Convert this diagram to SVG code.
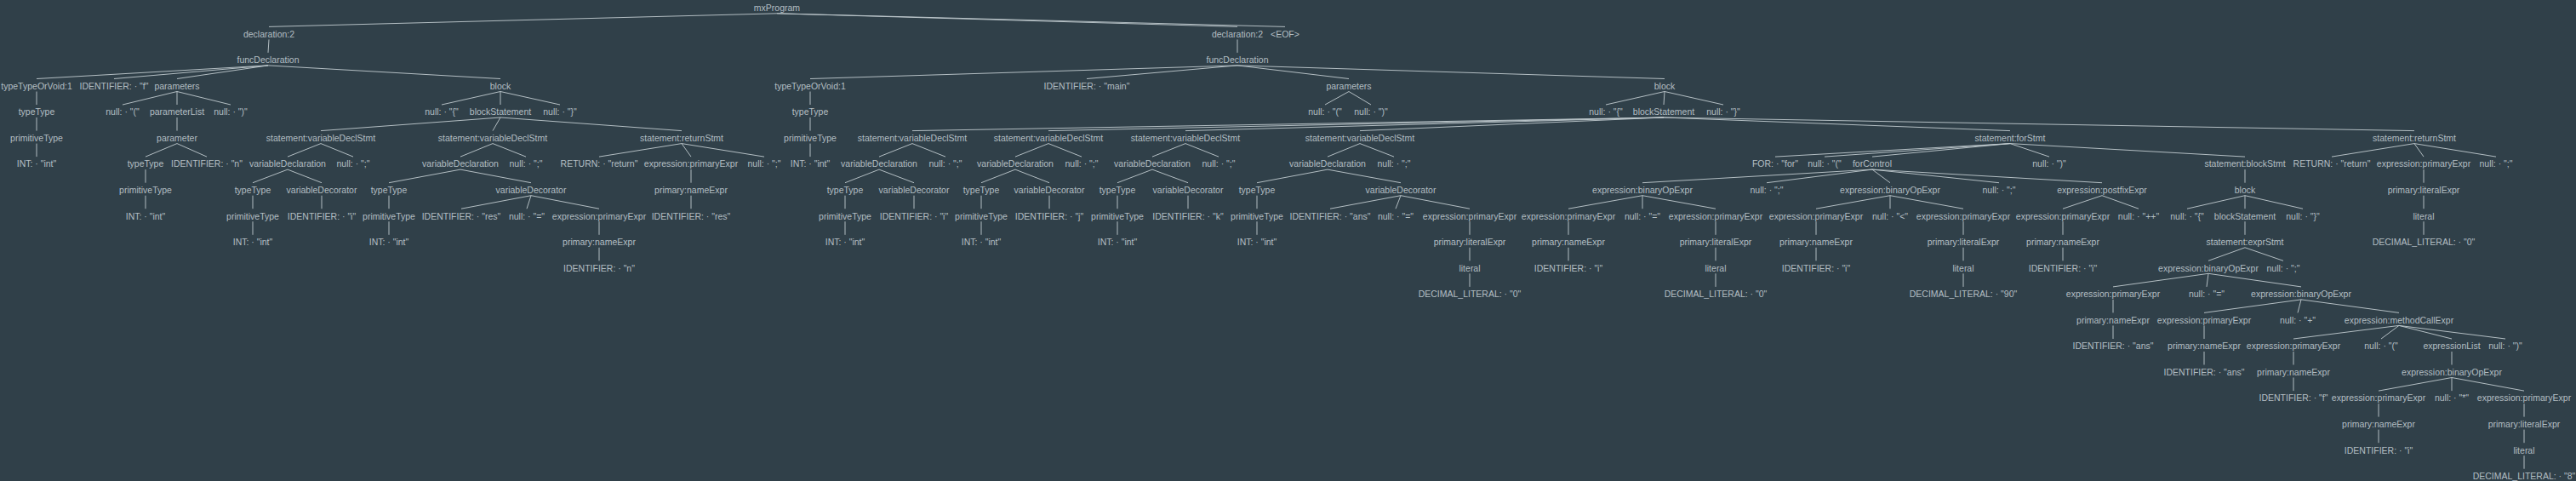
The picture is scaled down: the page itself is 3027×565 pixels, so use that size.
<svg xmlns="http://www.w3.org/2000/svg" width="3027" height="565" viewBox="0 0 3027 565">
<style>
text{font-family:"Liberation Sans",Arial,sans-serif;font-size:10.5px;fill:#b3bec3;text-anchor:middle}
#edges line{stroke:#c2ccd0;stroke-width:0.9}
</style>
<rect width="3027" height="565" fill="#304049"/>
<g id="edges">
<line x1="913" y1="15.8" x2="316" y2="31.4"/><line x1="913" y1="15.8" x2="1454" y2="31.4"/><line x1="913" y1="15.8" x2="1510" y2="31.4"/>
<line x1="316" y1="46.4" x2="315" y2="61.9"/>
<line x1="315" y1="76.9" x2="43" y2="92.5"/><line x1="315" y1="76.9" x2="134" y2="92.5"/><line x1="315" y1="76.9" x2="208" y2="92.5"/><line x1="315" y1="76.9" x2="588" y2="92.5"/>
<line x1="43" y1="107.5" x2="43" y2="123"/><line x1="43" y1="138" x2="43" y2="153.6"/><line x1="43" y1="168.6" x2="43" y2="184.1"/>
<line x1="208" y1="107.5" x2="144" y2="123"/><line x1="208" y1="107.5" x2="208" y2="123"/><line x1="208" y1="107.5" x2="271" y2="123"/>
<line x1="208" y1="138" x2="208" y2="153.6"/>
<line x1="208" y1="168.6" x2="171" y2="184.1"/><line x1="208" y1="168.6" x2="243" y2="184.1"/>
<line x1="171" y1="199.1" x2="171" y2="214.7"/><line x1="171" y1="229.7" x2="171" y2="245.2"/>
<line x1="588" y1="107.5" x2="519" y2="123"/><line x1="588" y1="107.5" x2="588" y2="123"/><line x1="588" y1="107.5" x2="658" y2="123"/>
<line x1="588" y1="138" x2="377" y2="153.6"/><line x1="588" y1="138" x2="579" y2="153.6"/><line x1="588" y1="138" x2="801" y2="153.6"/>
<line x1="377" y1="168.6" x2="338" y2="184.1"/><line x1="377" y1="168.6" x2="415" y2="184.1"/>
<line x1="338" y1="199.1" x2="297" y2="214.7"/><line x1="338" y1="199.1" x2="378" y2="214.7"/>
<line x1="297" y1="229.7" x2="297" y2="245.2"/><line x1="297" y1="260.2" x2="297" y2="275.8"/><line x1="378" y1="229.7" x2="378" y2="245.2"/>
<line x1="579" y1="168.6" x2="541" y2="184.1"/><line x1="579" y1="168.6" x2="618" y2="184.1"/>
<line x1="541" y1="199.1" x2="457" y2="214.7"/><line x1="541" y1="199.1" x2="624" y2="214.7"/>
<line x1="457" y1="229.7" x2="457" y2="245.2"/><line x1="457" y1="260.2" x2="457" y2="275.8"/>
<line x1="624" y1="229.7" x2="542" y2="245.2"/><line x1="624" y1="229.7" x2="619" y2="245.2"/><line x1="624" y1="229.7" x2="704" y2="245.2"/>
<line x1="704" y1="260.2" x2="704" y2="275.8"/><line x1="704" y1="290.8" x2="704" y2="306.3"/>
<line x1="801" y1="168.6" x2="704" y2="184.1"/><line x1="801" y1="168.6" x2="812" y2="184.1"/><line x1="801" y1="168.6" x2="898" y2="184.1"/>
<line x1="812" y1="199.1" x2="812" y2="214.7"/><line x1="812" y1="229.7" x2="812" y2="245.2"/>
<line x1="1454" y1="46.4" x2="1454" y2="61.9"/>
<line x1="1454" y1="76.9" x2="952" y2="92.5"/><line x1="1454" y1="76.9" x2="1277" y2="92.5"/><line x1="1454" y1="76.9" x2="1585" y2="92.5"/><line x1="1454" y1="76.9" x2="1956" y2="92.5"/>
<line x1="952" y1="107.5" x2="952" y2="123"/><line x1="952" y1="138" x2="952" y2="153.6"/><line x1="952" y1="168.6" x2="952" y2="184.1"/>
<line x1="1585" y1="107.5" x2="1557" y2="123"/><line x1="1585" y1="107.5" x2="1611" y2="123"/>
<line x1="1956" y1="107.5" x2="1887" y2="123"/><line x1="1956" y1="107.5" x2="1955" y2="123"/><line x1="1956" y1="107.5" x2="2025" y2="123"/>
<line x1="1955" y1="138" x2="1072" y2="153.6"/><line x1="1955" y1="138" x2="1232" y2="153.6"/><line x1="1955" y1="138" x2="1393" y2="153.6"/><line x1="1955" y1="138" x2="1598" y2="153.6"/><line x1="1955" y1="138" x2="2362" y2="153.6"/><line x1="1955" y1="138" x2="2837" y2="153.6"/>
<line x1="1072" y1="168.6" x2="1033" y2="184.1"/><line x1="1072" y1="168.6" x2="1111" y2="184.1"/>
<line x1="1033" y1="199.1" x2="993" y2="214.7"/><line x1="1033" y1="199.1" x2="1074" y2="214.7"/>
<line x1="993" y1="229.7" x2="993" y2="245.2"/><line x1="993" y1="260.2" x2="993" y2="275.8"/><line x1="1074" y1="229.7" x2="1074" y2="245.2"/>
<line x1="1232" y1="168.6" x2="1193" y2="184.1"/><line x1="1232" y1="168.6" x2="1271" y2="184.1"/>
<line x1="1193" y1="199.1" x2="1153" y2="214.7"/><line x1="1193" y1="199.1" x2="1233" y2="214.7"/>
<line x1="1153" y1="229.7" x2="1153" y2="245.2"/><line x1="1153" y1="260.2" x2="1153" y2="275.8"/><line x1="1233" y1="229.7" x2="1233" y2="245.2"/>
<line x1="1393" y1="168.6" x2="1354" y2="184.1"/><line x1="1393" y1="168.6" x2="1432" y2="184.1"/>
<line x1="1354" y1="199.1" x2="1313" y2="214.7"/><line x1="1354" y1="199.1" x2="1396" y2="214.7"/>
<line x1="1313" y1="229.7" x2="1313" y2="245.2"/><line x1="1313" y1="260.2" x2="1313" y2="275.8"/><line x1="1396" y1="229.7" x2="1396" y2="245.2"/>
<line x1="1598" y1="168.6" x2="1560" y2="184.1"/><line x1="1598" y1="168.6" x2="1638" y2="184.1"/>
<line x1="1560" y1="199.1" x2="1477" y2="214.7"/><line x1="1560" y1="199.1" x2="1646" y2="214.7"/>
<line x1="1477" y1="229.7" x2="1477" y2="245.2"/><line x1="1477" y1="260.2" x2="1477" y2="275.8"/>
<line x1="1646" y1="229.7" x2="1563" y2="245.2"/><line x1="1646" y1="229.7" x2="1640" y2="245.2"/><line x1="1646" y1="229.7" x2="1727" y2="245.2"/>
<line x1="1727" y1="260.2" x2="1727" y2="275.8"/><line x1="1727" y1="290.8" x2="1727" y2="306.3"/><line x1="1727" y1="321.3" x2="1727" y2="336.9"/>
<line x1="2362" y1="168.6" x2="2086" y2="184.1"/><line x1="2362" y1="168.6" x2="2144" y2="184.1"/><line x1="2362" y1="168.6" x2="2200" y2="184.1"/><line x1="2362" y1="168.6" x2="2408" y2="184.1"/><line x1="2362" y1="168.6" x2="2638" y2="184.1"/>
<line x1="2200" y1="199.1" x2="1930" y2="214.7"/><line x1="2200" y1="199.1" x2="2076" y2="214.7"/><line x1="2200" y1="199.1" x2="2221" y2="214.7"/><line x1="2200" y1="199.1" x2="2349" y2="214.7"/><line x1="2200" y1="199.1" x2="2470" y2="214.7"/>
<line x1="1930" y1="229.7" x2="1843" y2="245.2"/><line x1="1930" y1="229.7" x2="1930" y2="245.2"/><line x1="1930" y1="229.7" x2="2016" y2="245.2"/>
<line x1="1843" y1="260.2" x2="1843" y2="275.8"/><line x1="1843" y1="290.8" x2="1843" y2="306.3"/>
<line x1="2016" y1="260.2" x2="2016" y2="275.8"/><line x1="2016" y1="290.8" x2="2016" y2="306.3"/><line x1="2016" y1="321.3" x2="2016" y2="336.9"/>
<line x1="2221" y1="229.7" x2="2134" y2="245.2"/><line x1="2221" y1="229.7" x2="2221" y2="245.2"/><line x1="2221" y1="229.7" x2="2307" y2="245.2"/>
<line x1="2134" y1="260.2" x2="2134" y2="275.8"/><line x1="2134" y1="290.8" x2="2134" y2="306.3"/>
<line x1="2307" y1="260.2" x2="2307" y2="275.8"/><line x1="2307" y1="290.8" x2="2307" y2="306.3"/><line x1="2307" y1="321.3" x2="2307" y2="336.9"/>
<line x1="2470" y1="229.7" x2="2424" y2="245.2"/><line x1="2470" y1="229.7" x2="2513" y2="245.2"/>
<line x1="2424" y1="260.2" x2="2424" y2="275.8"/><line x1="2424" y1="290.8" x2="2424" y2="306.3"/>
<line x1="2638" y1="199.1" x2="2638" y2="214.7"/>
<line x1="2638" y1="229.7" x2="2570" y2="245.2"/><line x1="2638" y1="229.7" x2="2638" y2="245.2"/><line x1="2638" y1="229.7" x2="2706" y2="245.2"/>
<line x1="2638" y1="260.2" x2="2638" y2="275.8"/>
<line x1="2638" y1="290.8" x2="2595" y2="306.3"/><line x1="2638" y1="290.8" x2="2683" y2="306.3"/>
<line x1="2595" y1="321.3" x2="2483" y2="336.9"/><line x1="2595" y1="321.3" x2="2593" y2="336.9"/><line x1="2595" y1="321.3" x2="2704" y2="336.9"/>
<line x1="2483" y1="351.9" x2="2483" y2="367.4"/><line x1="2483" y1="382.4" x2="2483" y2="398"/>
<line x1="2704" y1="351.9" x2="2590" y2="367.4"/><line x1="2704" y1="351.9" x2="2700" y2="367.4"/><line x1="2704" y1="351.9" x2="2819" y2="367.4"/>
<line x1="2590" y1="382.4" x2="2590" y2="398"/><line x1="2590" y1="413" x2="2590" y2="428.5"/>
<line x1="2819" y1="382.4" x2="2695" y2="398"/><line x1="2819" y1="382.4" x2="2798" y2="398"/><line x1="2819" y1="382.4" x2="2881" y2="398"/><line x1="2819" y1="382.4" x2="2944" y2="398"/>
<line x1="2695" y1="413" x2="2695" y2="428.5"/><line x1="2695" y1="443.5" x2="2695" y2="459.1"/>
<line x1="2881" y1="413" x2="2881" y2="428.5"/>
<line x1="2881" y1="443.5" x2="2795" y2="459.1"/><line x1="2881" y1="443.5" x2="2881" y2="459.1"/><line x1="2881" y1="443.5" x2="2966" y2="459.1"/>
<line x1="2795" y1="474.1" x2="2795" y2="489.6"/><line x1="2795" y1="504.6" x2="2795" y2="520.2"/>
<line x1="2966" y1="474.1" x2="2966" y2="489.6"/><line x1="2966" y1="504.6" x2="2966" y2="520.2"/><line x1="2966" y1="535.2" x2="2966" y2="550.7"/>
<line x1="2837" y1="168.6" x2="2740" y2="184.1"/><line x1="2837" y1="168.6" x2="2848" y2="184.1"/><line x1="2837" y1="168.6" x2="2933" y2="184.1"/>
<line x1="2848" y1="199.1" x2="2848" y2="214.7"/><line x1="2848" y1="229.7" x2="2848" y2="245.2"/><line x1="2848" y1="260.2" x2="2848" y2="275.8"/>
</g>
<g id="n0"><text x="913" y="13.1">mxProgram</text></g>
<g id="n1"><text x="316" y="43.7">declaration:2</text></g>
<g id="n2"><text x="315" y="74.2">funcDeclaration</text></g>
<g id="n3"><text x="43" y="104.8">typeTypeOrVoid:1</text></g>
<g id="n4"><text x="43" y="135.3">typeType</text></g>
<g id="n5"><text x="43" y="165.9">primitiveType</text></g>
<g id="n6"><text x="43" y="196.4">INT: · "int"</text></g>
<g id="n7"><text x="134" y="104.8">IDENTIFIER: · "f"</text></g>
<g id="n8"><text x="208" y="104.8">parameters</text></g>
<g id="n9"><text x="144" y="135.3">null: · "("</text></g>
<g id="n10"><text x="208" y="135.3">parameterList</text></g>
<g id="n11"><text x="208" y="165.9">parameter</text></g>
<g id="n12"><text x="171" y="196.4">typeType</text></g>
<g id="n13"><text x="171" y="227">primitiveType</text></g>
<g id="n14"><text x="171" y="257.5">INT: · "int"</text></g>
<g id="n15"><text x="243" y="196.4">IDENTIFIER: · "n"</text></g>
<g id="n16"><text x="271" y="135.3">null: · ")"</text></g>
<g id="n17"><text x="588" y="104.8">block</text></g>
<g id="n18"><text x="519" y="135.3">null: · "{"</text></g>
<g id="n19"><text x="588" y="135.3">blockStatement</text></g>
<g id="n20"><text x="377" y="165.9">statement:variableDeclStmt</text></g>
<g id="n21"><text x="338" y="196.4">variableDeclaration</text></g>
<g id="n22"><text x="297" y="227">typeType</text></g>
<g id="n23"><text x="297" y="257.5">primitiveType</text></g>
<g id="n24"><text x="297" y="288.1">INT: · "int"</text></g>
<g id="n25"><text x="378" y="227">variableDecorator</text></g>
<g id="n26"><text x="378" y="257.5">IDENTIFIER: · "i"</text></g>
<g id="n27"><text x="415" y="196.4">null: · ";"</text></g>
<g id="n28"><text x="579" y="165.9">statement:variableDeclStmt</text></g>
<g id="n29"><text x="541" y="196.4">variableDeclaration</text></g>
<g id="n30"><text x="457" y="227">typeType</text></g>
<g id="n31"><text x="457" y="257.5">primitiveType</text></g>
<g id="n32"><text x="457" y="288.1">INT: · "int"</text></g>
<g id="n33"><text x="624" y="227">variableDecorator</text></g>
<g id="n34"><text x="542" y="257.5">IDENTIFIER: · "res"</text></g>
<g id="n35"><text x="619" y="257.5">null: · "="</text></g>
<g id="n36"><text x="704" y="257.5">expression:primaryExpr</text></g>
<g id="n37"><text x="704" y="288.1">primary:nameExpr</text></g>
<g id="n38"><text x="704" y="318.6">IDENTIFIER: · "n"</text></g>
<g id="n39"><text x="618" y="196.4">null: · ";"</text></g>
<g id="n40"><text x="801" y="165.9">statement:returnStmt</text></g>
<g id="n41"><text x="704" y="196.4">RETURN: · "return"</text></g>
<g id="n42"><text x="812" y="196.4">expression:primaryExpr</text></g>
<g id="n43"><text x="812" y="227">primary:nameExpr</text></g>
<g id="n44"><text x="812" y="257.5">IDENTIFIER: · "res"</text></g>
<g id="n45"><text x="898" y="196.4">null: · ";"</text></g>
<g id="n46"><text x="658" y="135.3">null: · "}"</text></g>
<g id="n47"><text x="1454" y="43.7">declaration:2</text></g>
<g id="n48"><text x="1454" y="74.2">funcDeclaration</text></g>
<g id="n49"><text x="952" y="104.8">typeTypeOrVoid:1</text></g>
<g id="n50"><text x="952" y="135.3">typeType</text></g>
<g id="n51"><text x="952" y="165.9">primitiveType</text></g>
<g id="n52"><text x="952" y="196.4">INT: · "int"</text></g>
<g id="n53"><text x="1277" y="104.8">IDENTIFIER: · "main"</text></g>
<g id="n54"><text x="1585" y="104.8">parameters</text></g>
<g id="n55"><text x="1557" y="135.3">null: · "("</text></g>
<g id="n56"><text x="1611" y="135.3">null: · ")"</text></g>
<g id="n57"><text x="1956" y="104.8">block</text></g>
<g id="n58"><text x="1887" y="135.3">null: · "{"</text></g>
<g id="n59"><text x="1955" y="135.3">blockStatement</text></g>
<g id="n60"><text x="1072" y="165.9">statement:variableDeclStmt</text></g>
<g id="n61"><text x="1033" y="196.4">variableDeclaration</text></g>
<g id="n62"><text x="993" y="227">typeType</text></g>
<g id="n63"><text x="993" y="257.5">primitiveType</text></g>
<g id="n64"><text x="993" y="288.1">INT: · "int"</text></g>
<g id="n65"><text x="1074" y="227">variableDecorator</text></g>
<g id="n66"><text x="1074" y="257.5">IDENTIFIER: · "i"</text></g>
<g id="n67"><text x="1111" y="196.4">null: · ";"</text></g>
<g id="n68"><text x="1232" y="165.9">statement:variableDeclStmt</text></g>
<g id="n69"><text x="1193" y="196.4">variableDeclaration</text></g>
<g id="n70"><text x="1153" y="227">typeType</text></g>
<g id="n71"><text x="1153" y="257.5">primitiveType</text></g>
<g id="n72"><text x="1153" y="288.1">INT: · "int"</text></g>
<g id="n73"><text x="1233" y="227">variableDecorator</text></g>
<g id="n74"><text x="1233" y="257.5">IDENTIFIER: · "j"</text></g>
<g id="n75"><text x="1271" y="196.4">null: · ";"</text></g>
<g id="n76"><text x="1393" y="165.9">statement:variableDeclStmt</text></g>
<g id="n77"><text x="1354" y="196.4">variableDeclaration</text></g>
<g id="n78"><text x="1313" y="227">typeType</text></g>
<g id="n79"><text x="1313" y="257.5">primitiveType</text></g>
<g id="n80"><text x="1313" y="288.1">INT: · "int"</text></g>
<g id="n81"><text x="1396" y="227">variableDecorator</text></g>
<g id="n82"><text x="1396" y="257.5">IDENTIFIER: · "k"</text></g>
<g id="n83"><text x="1432" y="196.4">null: · ";"</text></g>
<g id="n84"><text x="1598" y="165.9">statement:variableDeclStmt</text></g>
<g id="n85"><text x="1560" y="196.4">variableDeclaration</text></g>
<g id="n86"><text x="1477" y="227">typeType</text></g>
<g id="n87"><text x="1477" y="257.5">primitiveType</text></g>
<g id="n88"><text x="1477" y="288.1">INT: · "int"</text></g>
<g id="n89"><text x="1646" y="227">variableDecorator</text></g>
<g id="n90"><text x="1563" y="257.5">IDENTIFIER: · "ans"</text></g>
<g id="n91"><text x="1640" y="257.5">null: · "="</text></g>
<g id="n92"><text x="1727" y="257.5">expression:primaryExpr</text></g>
<g id="n93"><text x="1727" y="288.1">primary:literalExpr</text></g>
<g id="n94"><text x="1727" y="318.6">literal</text></g>
<g id="n95"><text x="1727" y="349.2">DECIMAL_LITERAL: · "0"</text></g>
<g id="n96"><text x="1638" y="196.4">null: · ";"</text></g>
<g id="n97"><text x="2362" y="165.9">statement:forStmt</text></g>
<g id="n98"><text x="2086" y="196.4">FOR: · "for"</text></g>
<g id="n99"><text x="2144" y="196.4">null: · "("</text></g>
<g id="n100"><text x="2200" y="196.4">forControl</text></g>
<g id="n101"><text x="1930" y="227">expression:binaryOpExpr</text></g>
<g id="n102"><text x="1843" y="257.5">expression:primaryExpr</text></g>
<g id="n103"><text x="1843" y="288.1">primary:nameExpr</text></g>
<g id="n104"><text x="1843" y="318.6">IDENTIFIER: · "i"</text></g>
<g id="n105"><text x="1930" y="257.5">null: · "="</text></g>
<g id="n106"><text x="2016" y="257.5">expression:primaryExpr</text></g>
<g id="n107"><text x="2016" y="288.1">primary:literalExpr</text></g>
<g id="n108"><text x="2016" y="318.6">literal</text></g>
<g id="n109"><text x="2016" y="349.2">DECIMAL_LITERAL: · "0"</text></g>
<g id="n110"><text x="2076" y="227">null: · ";"</text></g>
<g id="n111"><text x="2221" y="227">expression:binaryOpExpr</text></g>
<g id="n112"><text x="2134" y="257.5">expression:primaryExpr</text></g>
<g id="n113"><text x="2134" y="288.1">primary:nameExpr</text></g>
<g id="n114"><text x="2134" y="318.6">IDENTIFIER: · "i"</text></g>
<g id="n115"><text x="2221" y="257.5">null: · "&lt;"</text></g>
<g id="n116"><text x="2307" y="257.5">expression:primaryExpr</text></g>
<g id="n117"><text x="2307" y="288.1">primary:literalExpr</text></g>
<g id="n118"><text x="2307" y="318.6">literal</text></g>
<g id="n119"><text x="2307" y="349.2">DECIMAL_LITERAL: · "90"</text></g>
<g id="n120"><text x="2349" y="227">null: · ";"</text></g>
<g id="n121"><text x="2470" y="227">expression:postfixExpr</text></g>
<g id="n122"><text x="2424" y="257.5">expression:primaryExpr</text></g>
<g id="n123"><text x="2424" y="288.1">primary:nameExpr</text></g>
<g id="n124"><text x="2424" y="318.6">IDENTIFIER: · "i"</text></g>
<g id="n125"><text x="2513" y="257.5">null: · "++"</text></g>
<g id="n126"><text x="2408" y="196.4">null: · ")"</text></g>
<g id="n127"><text x="2638" y="196.4">statement:blockStmt</text></g>
<g id="n128"><text x="2638" y="227">block</text></g>
<g id="n129"><text x="2570" y="257.5">null: · "{"</text></g>
<g id="n130"><text x="2638" y="257.5">blockStatement</text></g>
<g id="n131"><text x="2638" y="288.1">statement:exprStmt</text></g>
<g id="n132"><text x="2595" y="318.6">expression:binaryOpExpr</text></g>
<g id="n133"><text x="2483" y="349.2">expression:primaryExpr</text></g>
<g id="n134"><text x="2483" y="379.7">primary:nameExpr</text></g>
<g id="n135"><text x="2483" y="410.3">IDENTIFIER: · "ans"</text></g>
<g id="n136"><text x="2593" y="349.2">null: · "="</text></g>
<g id="n137"><text x="2704" y="349.2">expression:binaryOpExpr</text></g>
<g id="n138"><text x="2590" y="379.7">expression:primaryExpr</text></g>
<g id="n139"><text x="2590" y="410.3">primary:nameExpr</text></g>
<g id="n140"><text x="2590" y="440.8">IDENTIFIER: · "ans"</text></g>
<g id="n141"><text x="2700" y="379.7">null: · "+"</text></g>
<g id="n142"><text x="2819" y="379.7">expression:methodCallExpr</text></g>
<g id="n143"><text x="2695" y="410.3">expression:primaryExpr</text></g>
<g id="n144"><text x="2695" y="440.8">primary:nameExpr</text></g>
<g id="n145"><text x="2695" y="471.4">IDENTIFIER: · "f"</text></g>
<g id="n146"><text x="2798" y="410.3">null: · "("</text></g>
<g id="n147"><text x="2881" y="410.3">expressionList</text></g>
<g id="n148"><text x="2881" y="440.8">expression:binaryOpExpr</text></g>
<g id="n149"><text x="2795" y="471.4">expression:primaryExpr</text></g>
<g id="n150"><text x="2795" y="501.9">primary:nameExpr</text></g>
<g id="n151"><text x="2795" y="532.5">IDENTIFIER: · "i"</text></g>
<g id="n152"><text x="2881" y="471.4">null: · "*"</text></g>
<g id="n153"><text x="2966" y="471.4">expression:primaryExpr</text></g>
<g id="n154"><text x="2966" y="501.9">primary:literalExpr</text></g>
<g id="n155"><text x="2966" y="532.5">literal</text></g>
<g id="n156"><text x="2966" y="563">DECIMAL_LITERAL: · "8"</text></g>
<g id="n157"><text x="2944" y="410.3">null: · ")"</text></g>
<g id="n158"><text x="2683" y="318.6">null: · ";"</text></g>
<g id="n159"><text x="2706" y="257.5">null: · "}"</text></g>
<g id="n160"><text x="2837" y="165.9">statement:returnStmt</text></g>
<g id="n161"><text x="2740" y="196.4">RETURN: · "return"</text></g>
<g id="n162"><text x="2848" y="196.4">expression:primaryExpr</text></g>
<g id="n163"><text x="2848" y="227">primary:literalExpr</text></g>
<g id="n164"><text x="2848" y="257.5">literal</text></g>
<g id="n165"><text x="2848" y="288.1">DECIMAL_LITERAL: · "0"</text></g>
<g id="n166"><text x="2933" y="196.4">null: · ";"</text></g>
<g id="n167"><text x="2025" y="135.3">null: · "}"</text></g>
<g id="n168"><text x="1510" y="43.7">&lt;EOF&gt;</text></g>
</svg>
